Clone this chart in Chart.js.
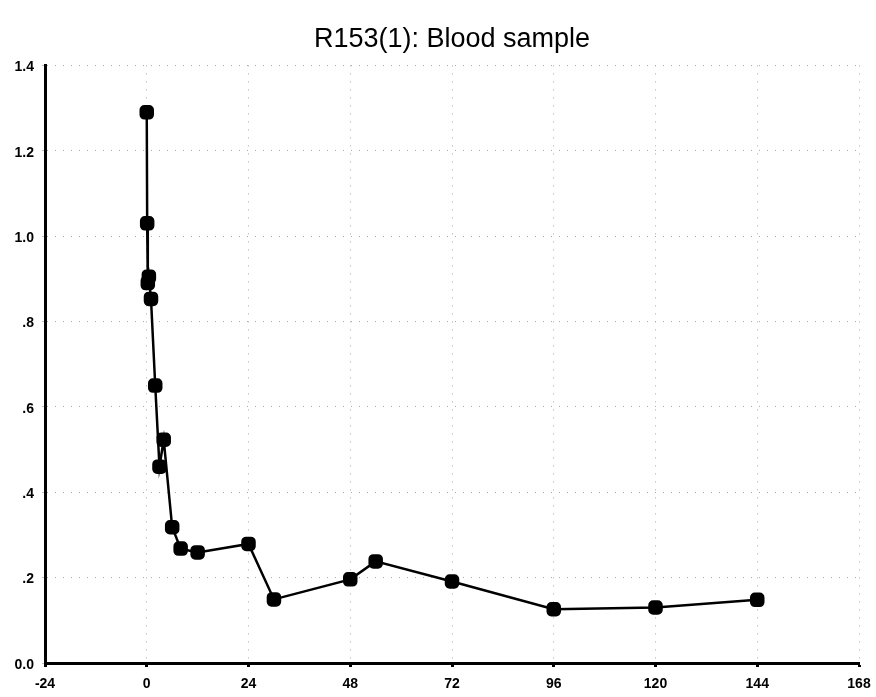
<!DOCTYPE html>
<html>
<head>
<meta charset="utf-8">
<script src="https://cdn.jsdelivr.net/npm/chart.js@4/dist/chart.umd.min.js"></script>
<style>
  html, body { margin: 0; padding: 0; background: #fff; }
  #wrap { width: 876px; height: 697px; }
</style>
</head>
<body>
<div id="wrap"><canvas id="chart" width="876" height="697"></canvas></div>
<script>
const hours = [0, 0.1, 0.25, 0.5, 1, 2, 3, 4, 6, 8, 12, 24, 30, 48, 54, 72, 96, 120, 144];
const concentration = [1.29, 1.03, 0.89, 0.905, 0.853, 0.65, 0.46, 0.523, 0.318, 0.268, 0.259, 0.279, 0.149, 0.196, 0.238, 0.191, 0.126, 0.13, 0.148];
const xTicks = [-24, 0, 24, 48, 72, 96, 120, 144, 168];
const yTicks = [0, 0.2, 0.4, 0.6, 0.8, 1.0, 1.2, 1.4];

function yLabel(v) {
  if (Math.abs(v) < 1e-9) return "0.0";
  if (v < 1) return "." + Math.round(v * 10);
  return v.toFixed(1);
}

const tickFont = { family: "'Liberation Sans', Arial, sans-serif", size: 14, weight: "bold" };

new Chart(document.getElementById("chart").getContext("2d"), {
  type: "line",
  data: {
    datasets: [
      {
        data: hours.map((h, i) => ({ x: h, y: concentration[i] })),
        borderColor: "#000",
        backgroundColor: "#000",
        borderWidth: 2.5,
        pointStyle: "rectRounded",
        pointRadius: 7,
        pointHoverRadius: 7,
        tension: 0,
      },
    ],
  },
  options: {
    responsive: false,
    animation: false,
    layout: { padding: { left: 0, right: 17, top: 0, bottom: 0 } },
    plugins: {
      legend: { display: false },
      tooltip: { enabled: false },
      title: {
        display: true,
        fullSize: false, // centre over the plot area, as in the original
        text: "R153(1): Blood sample",
        color: "#000",
        font: { family: "'Liberation Sans', Arial, sans-serif", size: 27, weight: "normal" },
        padding: { top: 23, bottom: 10 },
      },
    },
    scales: {
      x: {
        type: "linear",
        min: -24,
        max: 168,
        afterBuildTicks: (scale) => { scale.ticks = xTicks.map((v) => ({ value: v })); },
        afterFit: (scale) => {
          scale.height = 34;
          scale.paddingLeft = 0;
          scale.paddingRight = 0;
        },
        border: { color: "#000", width: 3, dash: [1, 7] },
        grid: {
          color: "#aaa",
          lineWidth: 1,
          tickColor: "#000",
          tickWidth: 3,
          tickLength: 4,
        },
        ticks: { color: "#000", font: tickFont, padding: 9, maxRotation: 0 },
      },
      y: {
        type: "linear",
        min: 0,
        max: 1.4,
        afterBuildTicks: (scale) => { scale.ticks = yTicks.map((v) => ({ value: v })); },
        afterFit: (scale) => { scale.width = 45; },
        border: { color: "#000", width: 3, dash: [1, 7] },
        grid: {
          color: "#aaa",
          lineWidth: 1,
          tickColor: "#bbb",
          tickLength: 3,
        },
        ticks: { color: "#000", font: tickFont, padding: 8, labelOffset: 2, callback: yLabel },
      },
    },
  },
});
</script>
</body>
</html>
